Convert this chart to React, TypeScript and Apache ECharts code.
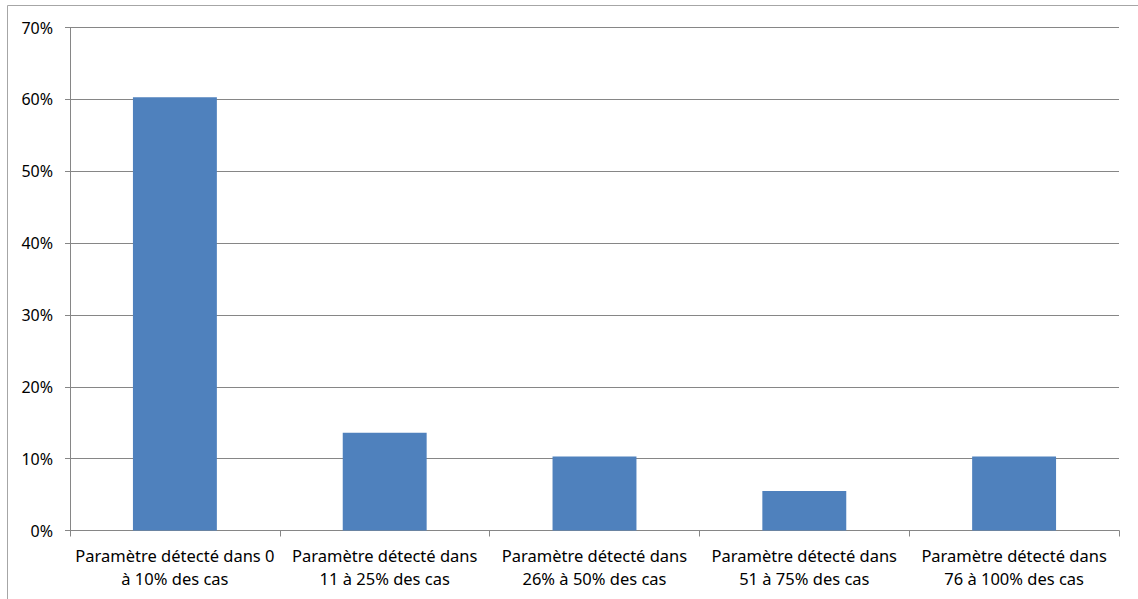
import React, { useEffect, useRef } from "react";
import * as echarts from "echarts";

// Share of parameters by detection frequency
const categories: string[] = [
  "Paramètre détecté dans 0\nà 10% des cas",
  "Paramètre détecté dans\n11 à 25% des cas",
  "Paramètre détecté dans\n26% à 50% des cas",
  "Paramètre détecté dans\n51 à 75% des cas",
  "Paramètre détecté dans\n76 à 100% des cas",
];
const shares: number[] = [60.3, 13.6, 10.3, 5.5, 10.3];
const yMin = 0;
const yMax = 70;
const yStep = 10;

const FONT = "'Noto Sans', 'Liberation Sans', Arial, sans-serif";

export default function App() {
  const ref = useRef<HTMLDivElement>(null);

  useEffect(() => {
    if (!ref.current) return;
    const chart = echarts.init(ref.current, null, { renderer: "svg" });
    chart.setOption({
      animation: false,
      backgroundColor: "#ffffff",
      textStyle: { fontFamily: FONT },
      graphic: [
        {
          type: "rect",
          shape: { x: 7.5, y: 5.5, width: 1140, height: 600 },
          style: { fill: "none", stroke: "#a6a6a6", lineWidth: 1 },
          silent: true,
        },
      ],
      grid: { left: 70, right: 19, top: 27.5, bottom: 68.5, containLabel: false },
      xAxis: {
        type: "category",
        data: categories,
        boundaryGap: true,
        axisLine: { show: true, lineStyle: { color: "#868686", width: 1 } },
        axisTick: { show: true, alignWithLabel: false, length: 6, lineStyle: { color: "#868686" } },
        axisLabel: {
          interval: 0,
          margin: 13,
          color: "#000000",
          fontSize: 16.5,
          lineHeight: 23,
          fontFamily: FONT,
        },
        splitLine: { show: false },
      },
      yAxis: {
        type: "value",
        min: yMin,
        max: yMax,
        interval: yStep,
        axisLine: { show: true, lineStyle: { color: "#868686", width: 1 } },
        axisTick: { show: true, length: 5, lineStyle: { color: "#868686" } },
        axisLabel: {
          margin: 17,
          color: "#000000",
          fontSize: 16,
          fontFamily: FONT,
          formatter: (v: number) => `${v}%`,
        },
        splitLine: { show: true, lineStyle: { color: "#868686", width: 1 } },
      },
      series: [
        {
          type: "bar",
          data: shares,
          barWidth: "40%",
          itemStyle: { color: "#4f81bd" },
        },
      ],
    });
    return () => chart.dispose();
  }, []);

  return (
    <div
      ref={ref}
      style={{ position: "absolute", left: 0, top: 0, width: 1138, height: 599 }}
    />
  );
}
